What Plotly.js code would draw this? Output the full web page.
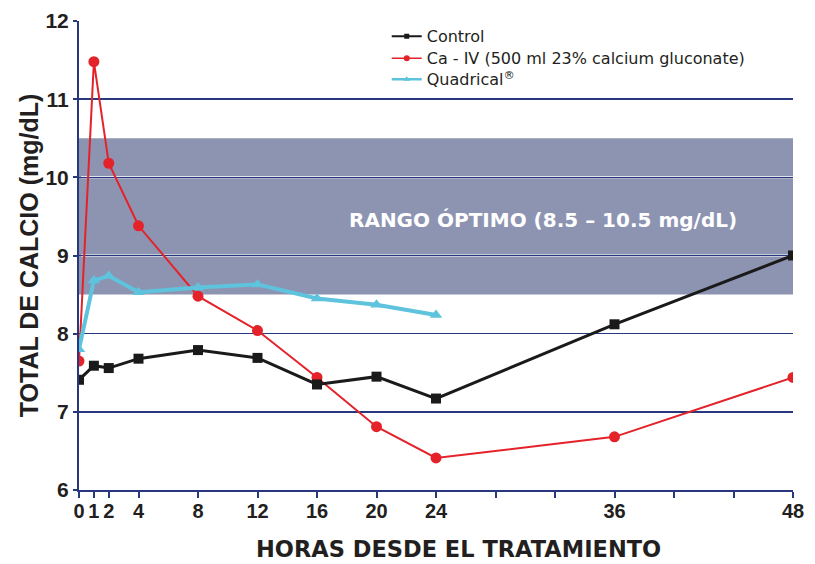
<!DOCTYPE html>
<html>
<head>
<meta charset="utf-8">
<script src="https://cdn.plot.ly/plotly-3.0.1.min.js"></script>
<style>
html,body{margin:0;padding:0;background:#fff;}
#chart{width:815px;height:564px;}
</style>
</head>
<body>
<div id="chart"></div>
<script>
// ---- data ----
const hours = [0, 1, 2, 4, 8, 12, 16, 20, 24, 36, 48];
const controlValues = [7.41, 7.59, 7.56, 7.68, 7.79, 7.69, 7.35, 7.45, 7.17, 8.12, 9.0];
const caIvValues = [7.65, 11.48, 10.18, 9.38, 8.48, 8.04, 7.44, 6.81, 6.41, 6.68, 7.44];
const quadHours = [0, 1, 2, 4, 8, 12, 16, 20, 24];
const quadValues = [7.8, 8.68, 8.74, 8.53, 8.59, 8.63, 8.45, 8.37, 8.24];
const seriesNames = ["Control", "Ca - IV (500 ml 23% calcium gluconate)", "Quadrical<sup>®</sup>"];
const xTickVals = [0, 1, 2, 4, 8, 12, 16, 20, 24, 28, 32, 36, 40, 44, 48];
const xTickText = ["0", "1", "2", "4", "8", "12", "16", "20", "24", "", "", "36", "", "", "48"];
const yTickVals = [6, 7, 8, 9, 10, 11, 12];
const optimalRange = [8.5, 10.5];
const bandLabel = "RANGO ÓPTIMO (8.5 – 10.5 mg/dL)";
const xTitle = "HORAS DESDE EL TRATAMIENTO";
const yTitle = "TOTAL DE CALCIO (mg/dL)";

// ---- styles ----
const NAVY = "#28387f";
const BLACK = "#1a1a1a";
const RED = "#e4222a";
const CYAN = "#5ec3dc";
const BAND = "#8d94b2";
const FONT = "Liberation Sans, Arial, sans-serif";
const WIDE = "DejaVu Sans, Verdana, sans-serif";
const TEXT = "#231f20";

const legendFont = {family: WIDE, size: 16, color: TEXT};
function legendBox(yPaper) {
  return {x: 0.431, y: yPaper, xanchor: "left", yanchor: "top",
    bgcolor: "rgba(255,255,255,0)", borderwidth: 0, font: legendFont};
}

const traces = [
  {x: hours, y: caIvValues, type: "scatter", mode: "lines+markers", showlegend: false,
   line: {color: RED, width: 2}, marker: {symbol: "circle", size: 11, color: RED}},
  {x: hours, y: controlValues, type: "scatter", mode: "lines+markers", showlegend: false,
   line: {color: BLACK, width: 3}, marker: {symbol: "square", size: 10, color: BLACK}},
  {x: quadHours, y: quadValues, type: "scatter", mode: "lines+markers", showlegend: false,
   line: {color: CYAN, width: 4}, marker: {symbol: "triangle-up", size: 11, color: CYAN}},
  // legend entries
  {x: [null], y: [null], type: "scatter", mode: "lines+markers", name: seriesNames[0], legend: "legend",
   line: {color: BLACK, width: 2}, marker: {symbol: "square", size: 5, color: BLACK}},
  {x: [null], y: [null], type: "scatter", mode: "lines+markers", name: seriesNames[1], legend: "legend2",
   line: {color: RED, width: 1.5}, marker: {symbol: "circle", size: 6, color: RED}},
  {x: [null], y: [null], type: "scatter", mode: "lines+markers", name: seriesNames[2], legend: "legend3",
   line: {color: CYAN, width: 2.5}, marker: {symbol: "triangle-up", size: 6, color: CYAN}}
];

const layout = {
  width: 815, height: 564,
  margin: {l: 79, r: 22, t: 21, b: 74, pad: 0},
  paper_bgcolor: "#fff", plot_bgcolor: "#fff",
  font: {family: FONT, color: TEXT},
  showlegend: true,
  legend: legendBox(1.0036),
  legend2: legendBox(0.9567),
  legend3: legendBox(0.912),
  xaxis: {
    range: [0, 48], tickmode: "array", tickvals: xTickVals, ticktext: xTickText,
    ticks: "outside", ticklen: 6, tickwidth: 2, tickcolor: NAVY, ticklabelstandoff: -4,
    showline: true, linecolor: NAVY, linewidth: 2, showgrid: false, zeroline: false,
    tickfont: {family: "Liberation Sans Narrow, " + FONT, size: 20, color: TEXT, weight: "bold"}
  },
  yaxis: {
    range: [6, 12], tickmode: "array", tickvals: yTickVals,
    ticks: "outside", ticklen: 4, tickwidth: 2, tickcolor: NAVY,
    showline: true, linecolor: NAVY, linewidth: 2,
    showgrid: true, gridcolor: NAVY, gridwidth: 1.5, zeroline: false,
    tickfont: {family: FONT, size: 21, color: TEXT, weight: "bold"},
    title: {text: "<b>" + yTitle + "</b>", font: {family: FONT, size: 25, color: TEXT}, standoff: 0}
  },
  shapes: [
    {type: "rect", xref: "paper", yref: "y", x0: 0, x1: 1, y0: optimalRange[0], y1: optimalRange[1],
     fillcolor: BAND, line: {width: 0}, layer: "between"},
    {type: "line", xref: "paper", yref: "y", x0: 0.003, x1: 1, y0: 9, y1: 9,
     line: {color: "#ffffff", width: 2}, layer: "between"},
    {type: "line", xref: "paper", yref: "y", x0: 0.003, x1: 1, y0: 10, y1: 10,
     line: {color: "#ffffff", width: 2}, layer: "between"}
  ],
  annotations: [
    {xref: "paper", yref: "y", x: 0.65, y: 9.45, text: "<b>" + bandLabel + "</b>", showarrow: false,
     font: {family: WIDE, size: 20, color: "#ffffff"}, xanchor: "center", yanchor: "middle"},
    {xref: "paper", yref: "paper", x: 0.531, y: -0.126, text: "<b>" + xTitle + "</b>", showarrow: false,
     font: {family: WIDE, size: 22.5, color: TEXT}, xanchor: "center", yanchor: "middle"}
  ]
};

Plotly.newPlot("chart", traces, layout, {displayModeBar: false, staticPlot: true});
</script>
</body>
</html>
